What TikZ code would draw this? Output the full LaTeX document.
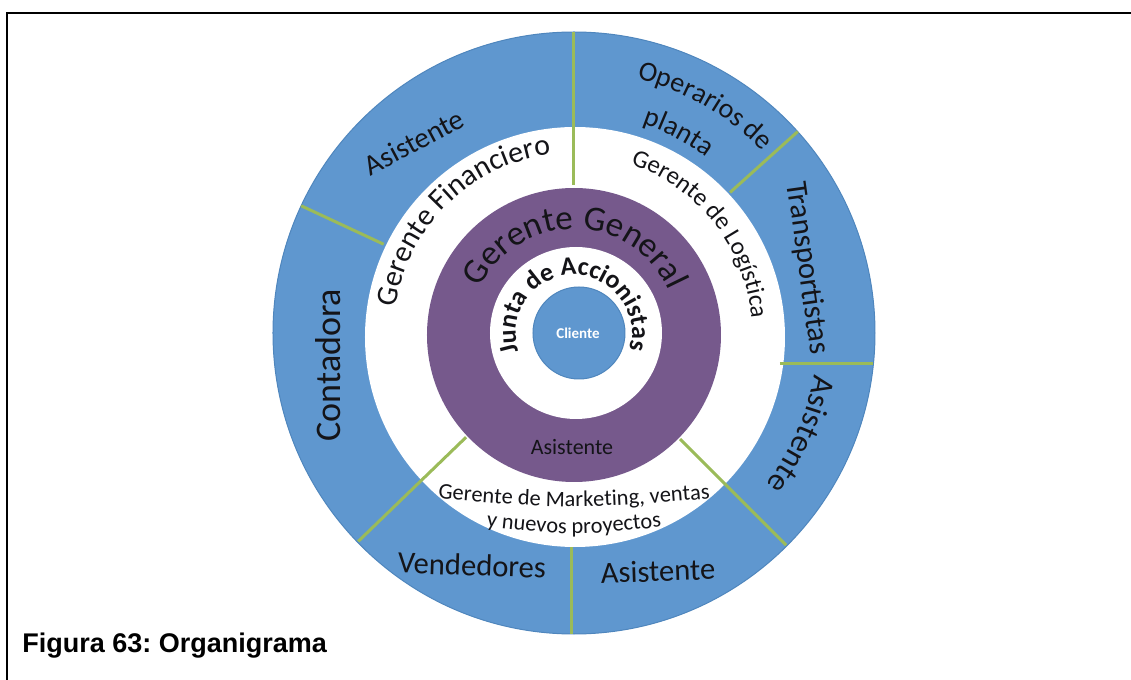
\documentclass[tikz,border=0pt]{standalone}
\usepackage{fontspec}
\setmainfont{Carlito}
\newfontfamily\capfont{Liberation Sans}
\frenchspacing
\usetikzlibrary{decorations.text}
\definecolor{ringblue}{HTML}{5F97CF}
\definecolor{ringedge}{HTML}{4F86BD}
\definecolor{corepurple}{HTML}{76598C}
\definecolor{divgreen}{HTML}{9BBB59}
\definecolor{inktext}{HTML}{141418}

\begin{document}
\begin{tikzpicture}[x=0.5pt,y=0.5pt,
  divider/.style={draw=divgreen, line width=1.5pt},
  outerlabel/.style={text=inktext, font=\fontsize{15.3}{18}\selectfont, inner sep=0pt},
  arclabel/.style={decorate, decoration={text along path, text align=center,
      text color=inktext, text={#1}}}
]
\useasboundingbox (-574,-347) rectangle (557,333);

% frame lines (top and left)
\draw[line width=1pt] (-567,-347) -- (-567,320) -- (557,320);

% concentric discs
\path[fill=ringblue, draw=ringedge, line width=0.5pt] (0,0) circle (301);
\path[fill=white] (1,-4) circle (210);
\path[fill=corepurple] (0,-2) circle (147);
\path[fill=white] (2,0) circle (86);
\path[fill=ringblue, draw=ringedge, line width=0.5pt] (5,0) circle (46);

% dividers between sections
\draw[divider] (90:148) -- (90:301);
\draw[divider] (42:210) -- (42:301);
\draw[divider] (206,-31) -- (299,-31);
\draw[divider] (-45:150) -- (-45:300);
\draw[divider] (-2,-214) -- (-2,-301);
\draw[divider] (-136:150) -- (-136:300);
\draw[divider] (155:210) -- (155:301);

% centre
\node[text=white, font=\bfseries\fontsize{7.5}{9}\selectfont, inner sep=0pt] (cliente) at (4,0) {Cliente};
\path[arclabel={|\bfseries\fontsize{13}{16}\selectfont|Junta de Accionistas}]
  (231:58) arc[start angle=231, end angle=-49, radius=58];

% purple ring
\path[arclabel={|\fontsize{17.5}{21}\selectfont|Gerente General}]
  (179:104) arc[start angle=179, end angle=-1, radius=104];
\node[text=inktext, font=\fontsize{11}{13}\selectfont, inner sep=0pt] (asisgg) at (-2,-114) {Asistente};

% white ring
\path[arclabel={|\fontsize{15}{18}\selectfont|Gerente Financiero}]
  (184.5:180) arc[start angle=184.5, end angle=84.5, radius=180];
\path[arclabel={|\fontsize{12.5}{15}\selectfont|Gerente de Logística}]
  (88:178) arc[start angle=88, end angle=-12, radius=178];
\path[arclabel={|\fontsize{11.2}{14}\selectfont|Gerente de Marketing, ventas}]
  (-170,-163) .. controls (0,-177) .. (170,-163);
\path[arclabel={|\fontsize{11.2}{14}\selectfont|y nuevos proyectos}]
  (-120,-190) .. controls (0,-204) .. (120,-190);

% outer ring
\node[outerlabel, font=\fontsize{14.5}{17}\selectfont, rotate=28] (asisf) at (-160,191) {Asistente};
\path[arclabel={|\fontsize{14}{17}\selectfont|Operarios de}]
  (110:262) arc[start angle=110, end angle=10, radius=262];
\path[arclabel={|\fontsize{14}{17}\selectfont|planta}]
  (112.5:220) arc[start angle=112.5, end angle=12.5, radius=220];
\node[outerlabel, rotate=-82] (transp) at (233,65) {Transportistas};
\path[arclabel={|\fontsize{16}{19}\selectfont|Asistente}]
  (26:244) arc[start angle=26, end angle=-74, radius=244];
\node[outerlabel, rotate=-2] (vend) at (-102,-232) {Vendedores};
\node[outerlabel, rotate=2] (asisv) at (84,-238) {Asistente};
\node[outerlabel, font=\fontsize{18}{21}\selectfont, rotate=90] (conta) at (-246,-32) {Contadora};

% caption
\node[anchor=base west, inner sep=0pt, font=\capfont\bfseries\fontsize{13.5}{16}\selectfont] (caption) at (-552,-319) {Figura 63: Organigrama};
\end{tikzpicture}
\end{document}
